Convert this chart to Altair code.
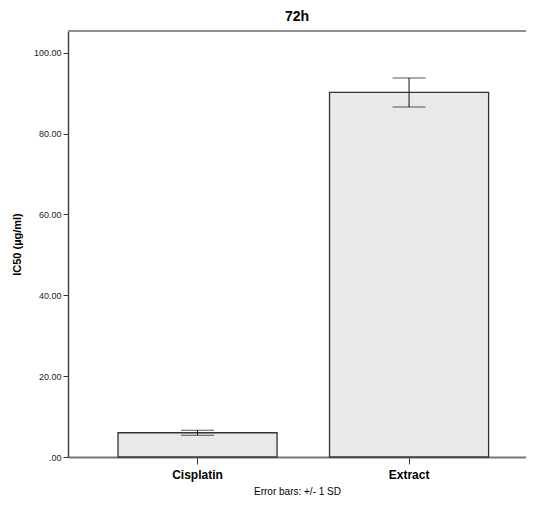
import altair as alt
import pandas as pd

groups = ["Cisplatin", "Extract"]
means = [6.0, 90.2]
sds = [0.6, 3.6]

df = pd.DataFrame({"group": groups, "mean": means, "sd": sds})
df["lo"] = df["mean"] - df["sd"]
df["hi"] = df["mean"] + df["sd"]

PLOT_W = 458

xenc = alt.X("group:N", sort=groups,
             scale=alt.Scale(paddingInner=0.248, paddingOuter=0.2066, align=0.572),
             axis=alt.Axis(title="Error bars: +/- 1 SD", labelAngle=0,
                           labelFont="Arial", labelFontSize=12, labelFontWeight="bold",
                           labelColor="#000", labelPadding=5,
                           titleFont="Arial", titleFontSize=10, titleFontWeight="normal",
                           titleColor="#000", titlePadding=6,
                           tickSize=7, tickColor="#333", domainColor="#777",
                           domainWidth=2))

yscale = alt.Scale(domain=[0, 105.4], nice=False)

bars = alt.Chart(df).mark_bar(fill="#e9e9e9", stroke="#333", strokeWidth=1.3).encode(
    x=xenc,
    y=alt.Y("mean:Q", scale=yscale,
            axis=alt.Axis(title="IC50 (µg/ml)", values=[0, 20, 40, 60, 80, 100],
                          labelExpr="datum.value == 0 ? '.00' : format(datum.value, '.2f')",
                          labelFont="Arial", labelFontSize=9, labelColor="#222",
                          titleFont="Arial", titleFontSize=11, titleFontWeight="bold",
                          titleColor="#000", titlePadding=11,
                          tickSize=5, tickColor="#333", domainColor="#444",
                          domainWidth=1.5, grid=False))
)

topline = alt.Chart(df).mark_rule(color="#888", strokeWidth=1.5).encode(
    x=alt.value(0), x2=alt.value(PLOT_W), y=alt.value(0))

rules = alt.Chart(df).mark_rule(color="#111", strokeWidth=1).encode(
    x=alt.X("group:N", sort=groups), y="lo:Q", y2="hi:Q")

caps_lo = alt.Chart(df).mark_tick(color="#111", thickness=1, size=33).encode(
    x=alt.X("group:N", sort=groups), y="lo:Q")
caps_hi = alt.Chart(df).mark_tick(color="#111", thickness=1, size=33).encode(
    x=alt.X("group:N", sort=groups), y="hi:Q")

chart = alt.layer(bars, topline, rules, caps_lo, caps_hi).properties(
    width=PLOT_W, height=426,
    title=alt.TitleParams("72h", font="Arial", fontSize=14, fontWeight="bold",
                          color="#000", offset=6),
    padding={"left": 60, "top": 23, "right": 0, "bottom": 42},
    autosize=alt.AutoSizeParams(type="none"),
).configure_view(stroke=None)

chart.save("out.html", embed_options={"renderer": "svg", "actions": False})
